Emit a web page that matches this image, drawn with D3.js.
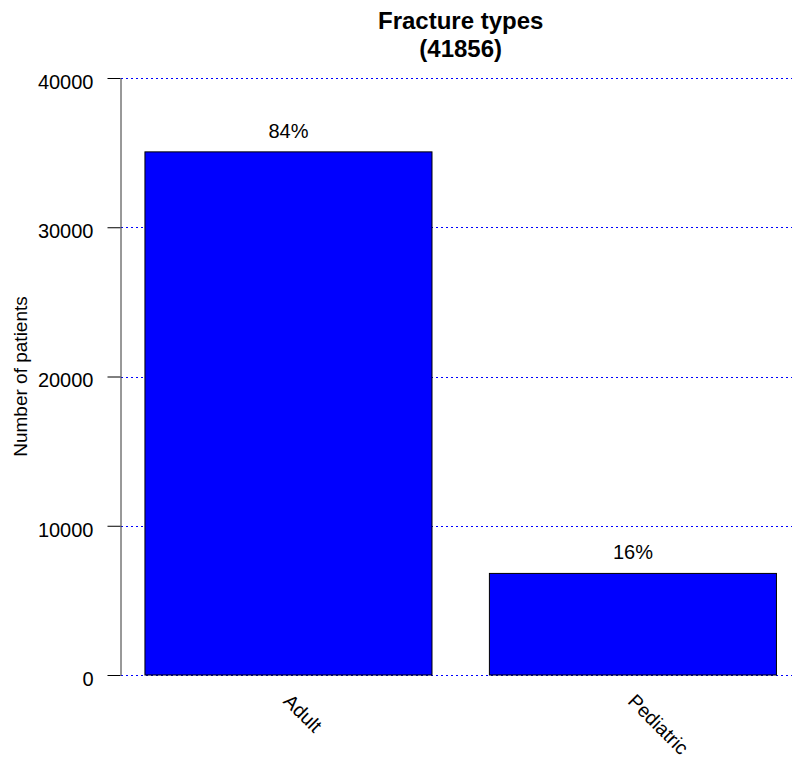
<!DOCTYPE html>
<html>
<head>
<meta charset="utf-8">
<script src="https://cdn.jsdelivr.net/npm/d3@7"></script>
<style>
  html, body { margin: 0; padding: 0; background: #fff; overflow: hidden; }
  svg { display: block; font-family: "Liberation Sans", Arial, Helvetica, sans-serif; }
</style>
</head>
<body>
<svg id="chart" width="792" height="760"></svg>
<script>
const categories = ["Adult", "Pediatric"];
const values = [35050, 6806];
const yTicks = [0, 10000, 20000, 30000, 40000];
const titleText = "Fracture types";
const yLabel = "Number of patients";

const total = d3.sum(values);
const svg = d3.select("#chart");

const plot = { left: 119.7, right: 801.7, top: 78, bottom: 675 };

const x = d3.scaleBand()
  .domain(categories)
  .range([plot.left, plot.right])
  .paddingInner(0.2 / 1.2)
  .paddingOuter(0.0733);

const y = d3.scaleLinear()
  .domain([0, 40000])
  .range([plot.bottom, plot.top]);

// gridlines
svg.append("g")
  .selectAll("line")
  .data(yTicks)
  .join("line")
  .attr("x1", Math.round(plot.left) + 1)
  .attr("x2", 792)
  .attr("y1", d => Math.round(y(d)) + 0.5)
  .attr("y2", d => Math.round(y(d)) + 0.5)
  .attr("stroke", "#0000ff")
  .attr("stroke-width", 1)
  .attr("shape-rendering", "crispEdges")
  .attr("stroke-dasharray", "2,3");

// bars
svg.append("g")
  .selectAll("rect")
  .data(categories)
  .join("rect")
  .attr("x", d => x(d))
  .attr("y", (d, i) => y(values[i]))
  .attr("width", x.bandwidth())
  .attr("height", (d, i) => y(0) - y(values[i]))
  .attr("fill", "#0000ff")
  .attr("stroke", "#000")
  .attr("stroke-width", 1);

// percent labels
svg.append("g")
  .selectAll("text")
  .data(categories)
  .join("text")
  .attr("x", d => x(d) + x.bandwidth() / 2)
  .attr("y", (d, i) => y(values[i]) - 14)
  .attr("text-anchor", "middle")
  .attr("font-size", 20)
  .attr("fill", "#000")
  .text((d, i) => Math.round(values[i] / total * 100) + "%");

// y axis
const yAxis = d3.axisLeft(y)
  .tickValues(yTicks)
  .tickFormat(d3.format("d"))
  .tickSize(13)
  .tickSizeOuter(0)
  .tickPadding(14);

const gy = svg.append("g")
  .attr("transform", `translate(${Math.round(plot.left) + 0.5},0)`)
  .call(yAxis);
gy.select(".domain").attr("stroke", "#333").attr("stroke-width", 1);
gy.selectAll(".tick line").attr("stroke", "#000");
gy.selectAll(".tick text")
  .attr("font-size", 20)
  .attr("font-family", "Liberation Sans, Arial, sans-serif")
  .attr("fill", "#000")
  .attr("dy", "0.52em");

// x labels rotated
svg.append("g")
  .selectAll("text")
  .data(categories)
  .join("text")
  .attr("transform", d => `translate(${x(d) + x.bandwidth() / 2 + 4},${plot.bottom + 17}) rotate(45)`)
  .attr("text-anchor", "start")
  .attr("dominant-baseline", "hanging")
  .attr("font-size", 19.5)
  .attr("fill", "#000")
  .text(d => d);

// y axis title
svg.append("text")
  .attr("transform", `translate(27,${(plot.top + plot.bottom) / 2}) rotate(-90)`)
  .attr("text-anchor", "middle")
  .attr("font-size", 19)
  .attr("fill", "#000")
  .text(yLabel);

// title
const cx = (plot.left + plot.right) / 2;
svg.append("text")
  .attr("x", cx)
  .attr("y", 29)
  .attr("text-anchor", "middle")
  .attr("font-size", 24)
  .attr("font-weight", "bold")
  .attr("fill", "#000")
  .text(titleText);
svg.append("text")
  .attr("x", cx)
  .attr("y", 57)
  .attr("text-anchor", "middle")
  .attr("font-size", 24)
  .attr("font-weight", "bold")
  .attr("fill", "#000")
  .text("(" + total + ")");
</script>
</body>
</html>
